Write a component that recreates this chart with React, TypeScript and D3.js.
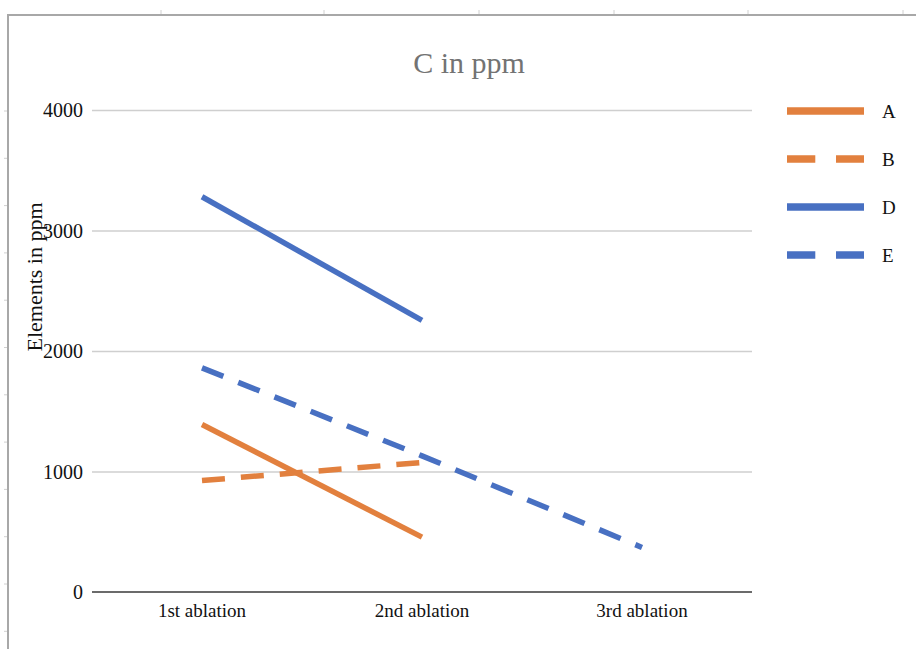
import { useEffect, useRef } from "react";
import * as d3 from "d3";

const categories = ["1st ablation", "2nd ablation", "3rd ablation"];
const seriesNames = ["A", "B", "D", "E"];
const valuesA = [1390, 455, null];
const valuesB = [925, 1075, null];
const valuesD = [3280, 2255, null];
const valuesE = [1860, 1130, 370];
const yTicks = [0, 1000, 2000, 3000, 4000];

const seriesValues = [valuesA, valuesB, valuesD, valuesE];
const seriesColors = ["#E2803E", "#E2803E", "#4870C2", "#4870C2"];
const seriesDashed = [false, true, false, true];

// spreadsheet cell edges behind the chart
const sheetCols = [161, 324, 479, 614, 748, 903];

export default function App() {
  const svgRef = useRef<SVGSVGElement>(null);

  useEffect(() => {
    if (!svgRef.current) return;
    const svg = d3.select(svgRef.current);
    svg.selectAll("*").remove();

    const W = 916;
    const H = 649;
    const margin = { top: 110, right: 164, bottom: 57, left: 92 };
    const width = W - margin.left - margin.right;
    const height = H - margin.top - margin.bottom;
    const font = "'Liberation Serif', 'Times New Roman', serif";

    svg.attr("width", W).attr("height", H);

    // sheet frame
    svg.append("line").attr("x1", 8).attr("x2", W).attr("y1", 15).attr("y2", 15)
      .attr("stroke", "#a8a8a8").attr("stroke-width", 2);
    svg.append("line").attr("x1", 8).attr("x2", 8).attr("y1", 14).attr("y2", H)
      .attr("stroke", "#a8a8a8").attr("stroke-width", 2);
    sheetCols.forEach((cx) => {
      svg.append("line").attr("x1", cx).attr("x2", cx).attr("y1", 10).attr("y2", 14)
        .attr("stroke", "#d0d0d0").attr("stroke-width", 1);
    });
    d3.range(111, H, 47.3).forEach((ry) => {
      svg.append("line").attr("x1", 4).attr("x2", 7).attr("y1", ry).attr("y2", ry)
        .attr("stroke", "#d0d0d0").attr("stroke-width", 1);
    });

    const g = svg.append("g").attr("transform", `translate(${margin.left},${margin.top})`);

    const x = d3.scalePoint<string>().domain(categories).range([0, width]).padding(0.5);
    const y = d3.scaleLinear().domain([0, 4000]).range([height, 0]);

    // gridlines
    g.append("g")
      .call(d3.axisLeft(y).tickValues(yTicks.slice(1)).tickSize(-width).tickFormat(() => ""))
      .call((a) => a.select(".domain").remove())
      .call((a) => a.selectAll(".tick line").attr("stroke", "#cfcfcf").attr("stroke-width", 1.5));

    // y tick labels
    yTicks.forEach((t) => {
      g.append("text")
        .attr("x", -9)
        .attr("y", y(t))
        .attr("dy", "0.35em")
        .attr("text-anchor", "end")
        .attr("font-family", font)
        .attr("font-size", 20)
        .attr("fill", "#111")
        .text(t);
    });

    // x axis
    g.append("line").attr("x1", 0).attr("x2", width).attr("y1", y(0)).attr("y2", y(0))
      .attr("stroke", "#3a3a3a").attr("stroke-width", 1.5);
    categories.forEach((c) => {
      g.append("text")
        .attr("x", x(c)!)
        .attr("y", height + 25)
        .attr("text-anchor", "middle")
        .attr("font-family", font)
        .attr("font-size", 19)
        .attr("fill", "#111")
        .text(c);
    });

    // lines
    seriesValues.forEach((vals, i) => {
      const line = d3
        .line<number | null>()
        .defined((d) => d !== null)
        .x((_, j) => x(categories[j])!)
        .y((d) => y(d as number));
      g.append("path")
        .datum(vals)
        .attr("fill", "none")
        .attr("stroke", seriesColors[i])
        .attr("stroke-width", 5.5)
        .attr("stroke-dasharray", seriesDashed[i] ? "23 16" : null)
        .attr("d", line);
    });

    // title
    svg.append("text")
      .attr("x", 469)
      .attr("y", 73)
      .attr("text-anchor", "middle")
      .attr("font-family", font)
      .attr("font-size", 30)
      .attr("fill", "#737373")
      .text("C in ppm");

    // y axis label
    svg.append("text")
      .attr("transform", "translate(42,277) rotate(-90)")
      .attr("text-anchor", "middle")
      .attr("font-family", font)
      .attr("font-size", 22)
      .attr("fill", "#111")
      .text("Elements in ppm");

    // legend
    const legend = svg.append("g").attr("transform", "translate(787,111)");
    seriesNames.forEach((name, i) => {
      const row = legend.append("g").attr("transform", `translate(0,${i * 48})`);
      row.append("line")
        .attr("x1", 0).attr("x2", 77).attr("y1", 0).attr("y2", 0)
        .attr("stroke", seriesColors[i])
        .attr("stroke-width", 7.5)
        .attr("stroke-dasharray", seriesDashed[i] ? "28.3 20.7" : null);
      row.append("text")
        .attr("x", 95)
        .attr("y", 0)
        .attr("dy", "0.35em")
        .attr("font-family", font)
        .attr("font-size", 19)
        .attr("fill", "#111")
        .text(name);
    });
  }, []);

  return (
    <div style={{ position: "absolute", left: 0, top: 0, background: "#fff" }}>
      <svg ref={svgRef} style={{ display: "block" }} />
    </div>
  );
}
